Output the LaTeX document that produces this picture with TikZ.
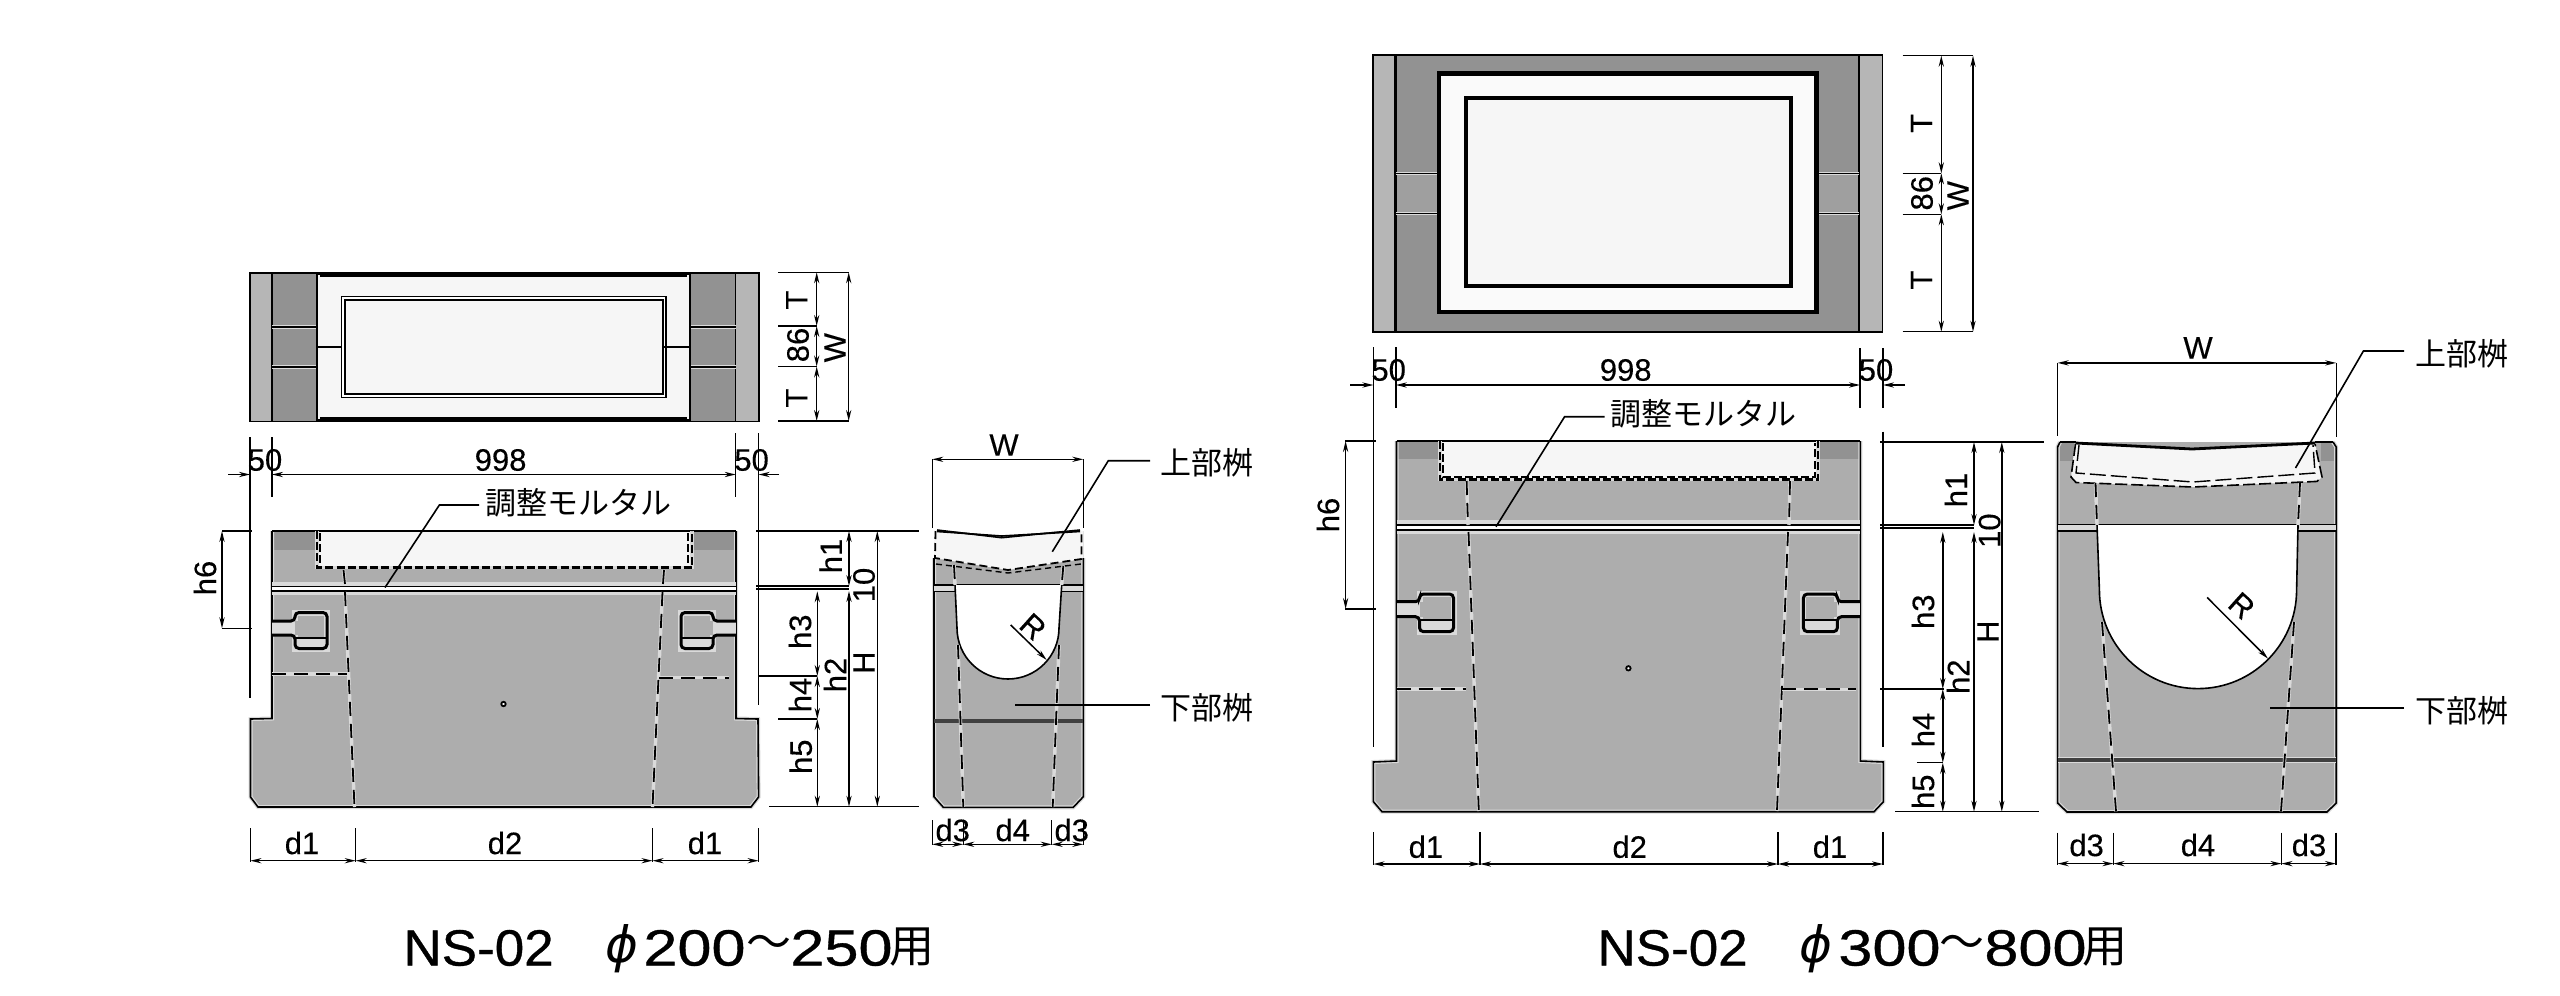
\documentclass[tikz,border=0pt]{standalone}
\usepackage{fontspec}
\usetikzlibrary{arrows.meta}
\setmainfont{Liberation Sans}
\newfontfamily\labf{Liberation Sans}[FakeBold=0.25]
\newfontfamily\cjkf{Noto Sans CJK JP}
\newfontfamily\widef{Liberation Sans}[FakeStretch=1.2,FakeBold=0.7]
\newfontfamily\slightf{Liberation Sans}[FakeStretch=1.04,FakeBold=0.7]
\newfontfamily\phif{DejaVu Sans Oblique}
\definecolor{body}{HTML}{ADADAD}
\definecolor{strip}{HTML}{B6B6B6}
\definecolor{band}{HTML}{929292}
\definecolor{lite}{HTML}{F6F6F6}
\definecolor{haloc}{HTML}{DADADA}
\tikzset{
  lab/.style={inner sep=0pt,font=\labf\fontsize{15.5}{17}\selectfont},
  labv/.style={lab,rotate=90},
  jp/.style={inner sep=0pt,font=\cjkf\fontsize{15.5}{17}\selectfont},
  tA/.style={inner sep=0pt,anchor=west,font=\slightf\fontsize{25.5}{28}\selectfont},
  tB/.style={inner sep=0pt,anchor=west,font=\widef\fontsize{25.5}{28}\selectfont},
  tC/.style={inner sep=0pt,anchor=west,font=\cjkf\fontsize{22.5}{26}\selectfont},
  tP/.style={inner sep=0pt,anchor=west,font=\phif\fontsize{25}{28}\selectfont},
  dimln/.style={line width=.75pt,black,{Stealth[length=5.5pt,width=2.6pt]}-{Stealth[length=5.5pt,width=2.6pt]}},
  dimone/.style={line width=.75pt,black,-{Stealth[length=5.5pt,width=2.6pt]}},
  ext/.style={line width=.7pt,black},
  lead/.style={line width=.8pt,black},
  halo/.style={line width=1.7pt,haloc},
  dsh/.style={line width=.9pt,black,dash pattern=on 7pt off 4pt},
  dshB/.style={line width=1.2pt,black,dash pattern=on 4pt off 1.6pt},
  solidln/.style={line width=.8pt,black},
  thick1/.style={line width=1.4pt,black},
}
\newcommand{\dashln}[1]{\draw[halo] #1; \draw[dsh] #1;}
\newcommand{\dashlnB}[1]{\draw[halo] #1; \draw[dshB] #1;}
\newcommand{\outl}[1]{\draw[line width=2pt,haloc] #1; \draw[solidln] #1;}
% x, dir, ytop, yn1, yn2, yline, ybot, length
\newcommand{\socket}[8]{%
\begin{scope}[shift={(#1,0)},xscale=#2]
\fill[body] (23,#3) rectangle (#8,#7);
\fill[haloc] (0,#4) rectangle (23,#5);
\draw[line width=3pt,haloc] (23,#4) -- (23,#3) -- (#8,#3) -- (#8,#7) -- (23,#7) -- (23,#5);
\fill[haloc] (23,#6) rectangle (#8,#7);
\draw[line width=1.5pt,black,rounded corners=2pt] (0,#4) -- (23,#4) -- (23,#3) -- (#8,#3) -- (#8,#7) -- (23,#7) -- (23,#5) -- (0,#5);
\draw[line width=1pt,black] (23,#6) -- (#8,#6);
\end{scope}}
\begin{document}
\begin{tikzpicture}[x=.5pt,y=-.5pt]
\useasboundingbox (0,0) rectangle (2560,996);
\fill[white] (0,0) rectangle (2560,996);

%% ===== LEFT PLAN =====
\fill[strip] (250,273) rectangle (759,421.5);
\fill[band] (272,273) rectangle (735.5,421.5);
\draw[solidln] (250,273) rectangle (759,421.5);
\draw[solidln] (272,273) -- (272,421.5) (735.5,273) -- (735.5,421.5);
\draw[halo] (272,327) -- (316,327) (272,367) -- (316,367) (691,327) -- (735.5,327) (691,367) -- (735.5,367);
\draw[solidln] (272,327) -- (316,327) (272,367) -- (316,367) (691,327) -- (735.5,327) (691,367) -- (735.5,367);
\fill[lite] (317,274) rectangle (690,420);
\draw[thick1] (317,274) rectangle (690,420);
\draw[solidln] (320,276) -- (687,276) (320,418) -- (687,418);
\fill[white] (341.5,296.5) rectangle (666,397.5);
\draw[solidln] (341.5,296.5) rectangle (666,397.5);
\fill[lite] (345,300) rectangle (663,394);
\draw[line width=1.3pt] (345,300) rectangle (663,394);
\draw[solidln] (317,347) -- (342,347) (663,347) -- (690,347);

%% plan dims
\draw[ext] (778,272.3) -- (849,272.3) (778,326) -- (816.7,326) (778,366.5) -- (816.7,366.5) (778,421) -- (849,421);
\draw[dimln] (816.7,272.3) -- (816.7,326);
\draw[dimln] (816.7,326) -- (816.7,366.5);
\draw[dimln] (816.7,366.5) -- (816.7,421);
\draw[dimln] (848.7,272.3) -- (848.7,421);
\node[labv] (lT1) at (796.7,300) {T};
\node[labv] (l86) at (798,345) {86};
\node[labv] (lT2) at (796.7,398) {T};
\node[labv] (lW1) at (835,347.7) {W};

%% 50/998/50
\draw[ext] (250,437) -- (250,698) (272,437) -- (272,497) (735.7,433) -- (735.7,497) (758.6,433) -- (758.6,705);
\draw[dimone] (228,474.5) -- (250,474.5);
\draw[dimln] (272,474.5) -- (735.7,474.5);
\draw[dimone] (779,474.5) -- (758.6,474.5);
\node[lab] (l50a) at (265,460) {50};
\node[lab] (l998a) at (500.6,460) {998};
\node[lab] (l50b) at (751.6,460) {50};

%% ===== LEFT ELEVATION =====
\fill[body] (272,531) -- (736,531) -- (736,718.5) -- (758,719) -- (758.6,797) -- (751,807) -- (258,807) -- (250.5,797) -- (250.5,719) -- (272,718.5) -- cycle;
\fill[band] (272,531) rectangle (318,550);
\fill[band] (692,531) rectangle (736,550);
\fill[lite] (318,531) rectangle (692,568);
\outl{(272,531) -- (272,718.5) -- (250.5,719) -- (250.5,797) -- (258,807) -- (751,807) -- (758.6,797) -- (758,719) -- (736,718.5) -- (736,531)}
\draw[solidln] (272,531) -- (736,531);
% joint
\fill[white] (272,586.5) rectangle (736,590.5);
\draw[halo] (272,584) -- (736,584) (272,593) -- (736,593);
\draw[solidln] (272,586.5) -- (736,586.5);
\draw[line width=1pt] (272,590.5) -- (736,590.5);
% trough
\dashlnB{(317,531) -- (317,567.5) -- (692,567.5) -- (692,531)}
\draw[dshB,line width=.7pt] (320,533) -- (320,565) (688,533) -- (688,565);
% dashed lines
\dashln{(343.5,570) -- (345,584)}
\dashln{(345,592) -- (354.5,807)}
\dashln{(664,570) -- (663,584)}
\dashln{(662.5,592) -- (652.5,807)}
\dashln{(272,674) -- (347,674)}
\dashln{(659,677.7) -- (729,677.7)}
\socket{272}{1}{612.5}{621}{635}{638}{648.5}{55}
\socket{736}{-1}{612.5}{621}{635}{638}{648.5}{55}
\draw[line width=.9pt,fill=white] (503.5,704) circle[radius=2.2];

%% leader 調整
\node[jp,anchor=west] (cho1) at (485,503) {調整モルタル};
\coordinate (cho1b) at (439.4,505);
\coordinate (cho1c) at (385,587.5);
\draw[lead] (cho1.west) ++(-6,2) -- (cho1b) -- (cho1c);

%% d dims
\draw[ext] (250.4,828) -- (250.4,862) (355.7,828) -- (355.7,862) (652.5,828) -- (652.5,862) (758.6,828) -- (758.6,862);
\draw[dimln] (250.4,860.7) -- (355.7,860.7);
\draw[dimln] (355.7,860.7) -- (652.5,860.7);
\draw[dimln] (652.5,860.7) -- (758.6,860.7);
\node[lab] (d1a) at (302,843) {d1};
\node[lab] (d2a) at (505,843) {d2};
\node[lab] (d1b) at (705,843) {d1};

%% h6
\draw[ext] (222,531) -- (252,531) (222,628.3) -- (252,628.3);
\draw[dimln] (222,531) -- (222,628.3);
\node[labv] (h6a) at (205,578) {h6};

%% right dims of left elevation
\draw[ext] (756,531) -- (919,531) (756,586) -- (849,586) (756,589) -- (849,589) (758,676) -- (817,676) (778,719) -- (817,719) (769,806.7) -- (919,806.7);
\draw[dimln] (817.3,591.3) -- (817.3,676);
\draw[dimln] (817.3,676) -- (817.3,719);
\draw[dimln] (817.3,719) -- (817.3,806.7);
\draw[dimln] (849,531) -- (849,586);
\draw[dimln] (849,591) -- (849,806.7);
\draw[dimln] (877.3,531) -- (877.3,806.7);
\node[labv] (h1a) at (830.7,556) {h1};
\node[labv] (t10a) at (864,585) {10};
\node[labv] (h3a) at (800,631.7) {h3};
\node[labv] (h2a) at (835,675) {h2};
\node[labv] (Ha) at (864,662.7) {H};
\node[labv] (h4a) at (800,695) {h4};
\node[labv] (h5a) at (800.7,756.7) {h5};

%% ===== LEFT SIDE =====
\draw[ext] (932.3,459.3) -- (932.3,528) (1083.3,459.3) -- (1083.3,528);
\draw[dimln] (932.3,459.3) -- (1083.3,459.3);
\node[lab] (Wa) at (1004,445) {W};
\fill[body] (934,531) -- (1083.3,531) -- (1083.3,796.7) -- (1073.3,807.3) -- (943.3,807.3) -- (934,796.7) -- cycle;
\fill[lite] (934,531) -- (1001.7,537.7) -- (1083,531) -- (1083,559) -- (1008,570) -- (934,558) -- cycle;
\fill[white] (934,529) -- (1001.7,536) -- (1083.3,529) -- (1083.3,531) -- (934,531) -- cycle;
\outl{(934,558) -- (934,796.7) -- (943.3,807.3) -- (1073.3,807.3) -- (1083.3,796.7) -- (1083.3,558)}
% top lines
\draw[solidln] (937,530) -- (1001.7,537.7) -- (1080,530);
\draw[solidln] (937,531.5) -- (1001.7,536) -- (1080,531.5);
\draw[dsh,line width=.9pt,dash pattern=on 4pt off 2pt] (935.5,531) -- (935,558) -- (1008,570) -- (1081.5,559) -- (1081.5,531);
\draw[dsh,line width=.7pt,dash pattern=on 3pt off 2pt] (936,564) -- (1008,573) -- (1081,564);
% joint
\fill[haloc] (934,585) rectangle (955,592);
\fill[haloc] (1061.7,585) rectangle (1083.3,592);
\draw[solidln] (934,585) -- (1083.3,585);
\draw[solidln] (934,591.5) -- (955,591.5) (1061.7,591.5) -- (1083.3,591.5);
% opening
\fill[white] (955,585) -- (957,628) .. controls (957,656.2) and (979.8,679) .. (1008,679) .. controls (1036.2,679) and (1059,656.2) .. (1059,628) -- (1061.7,585) -- cycle;
\draw[solidln] (955,585) -- (957,628) .. controls (957,656.2) and (979.8,679) .. (1008,679) .. controls (1036.2,679) and (1059,656.2) .. (1059,628) -- (1061.7,585);
% seam
\draw[line width=2pt,haloc] (934,721) -- (1083.3,721);
\draw[line width=1.6pt,black!75] (934,721) -- (1083.3,721);
% dashes
\dashln{(954,565) -- (955,585)}
\dashln{(958,645) -- (963.3,807)}
\dashln{(1063.3,566) -- (1061.7,585)}
\dashln{(1059,645) -- (1052.7,807)}
% R
\draw[dimone] (1010.7,625) -- (1046.7,660);
\node[lab,rotate=-42] (Ra) at (1033,626.7) {R};
% leaders
\node[jp,anchor=west] (up1) at (1160,463) {上部桝};
\node[jp,anchor=west] (lo1) at (1160,708) {下部桝};
\coordinate (up1b) at (1108.3,460.7);
\coordinate (up1c) at (1052.3,551.7);
\coordinate (lo1b) at (1015,705);
\draw[lead] (1150,460.7) -- (up1b) -- (up1c);
\draw[lead] (1150,705) -- (lo1b);
% d3 d4
\draw[ext] (932.3,820) -- (932.3,845) (963.3,820) -- (963.3,845) (1051.7,820) -- (1051.7,845) (1083.3,820) -- (1083.3,845);
\draw[dimln] (932.3,844.3) -- (963.3,844.3);
\draw[dimln] (963.3,844.3) -- (1051.7,844.3);
\draw[dimln] (1051.7,844.3) -- (1083.3,844.3);
\node[lab] (d3a) at (952.7,830) {d3};
\node[lab] (d4a) at (1012.7,830) {d4};
\node[lab] (d3b) at (1071.7,830) {d3};

%% Left title
\node[tA] (ta1) at (403,948) {NS-02};
\node[tP] (ta2) at (605,949) {ϕ};
\node[tB] (ta3) at (643,948) {200};
\node[tC] (ta4) at (746,947) {～};
\node[tB] (ta5) at (790,948) {250};
\node[tC] (ta6) at (889,947) {用};

%% ===== RIGHT PLAN =====
\fill[strip] (1373,55) rectangle (1882.4,331.7);
\fill[band] (1395.5,55) rectangle (1859.3,331.7);
\fill[strip!35!band] (1396,174) rectangle (1438,213);
\fill[strip!35!band] (1817,174) rectangle (1859,213);
\draw[solidln] (1373,55) rectangle (1882.4,331.7);
\draw[line width=1.1pt] (1395.5,55) -- (1395.5,331.7) (1859.3,55) -- (1859.3,331.7);
\draw[halo] (1396,173.3) -- (1439,173.3) (1396,213.3) -- (1439,213.3) (1816,173.3) -- (1859,173.3) (1816,213.3) -- (1859,213.3);
\draw[solidln] (1396,173.3) -- (1439,173.3) (1396,213.3) -- (1439,213.3) (1816,173.3) -- (1859,173.3) (1816,213.3) -- (1859,213.3);
\fill[lite!60!white] (1439,73.3) rectangle (1816.3,311.7);
\draw[line width=2.2pt] (1439,73.3) rectangle (1816.3,311.7);
\fill[lite] (1465.7,97.7) rectangle (1790.7,286);
\draw[line width=1.9pt] (1465.7,97.7) rectangle (1790.7,286);

\draw[ext] (1902.6,55.7) -- (1973,55.7) (1902.6,173.3) -- (1941,173.3) (1902.6,214.3) -- (1941,214.3) (1902.6,331.7) -- (1973,331.7);
\draw[dimln] (1941.3,55.7) -- (1941.3,173.3);
\draw[dimln] (1941.3,173.3) -- (1941.3,214.3);
\draw[dimln] (1941.3,214.3) -- (1941.3,331.7);
\draw[dimln] (1973,55.7) -- (1973,331.7);
\node[labv] (rT1) at (1921.5,123.3) {T};
\node[labv] (r86) at (1922,193.3) {86};
\node[labv] (rT2) at (1921.5,280) {T};
\node[labv] (rW1) at (1958,195.7) {W};

\draw[ext] (1373.4,347) -- (1373.4,747) (1395.8,347) -- (1395.8,407.7) (1860,348) -- (1860,407.7) (1883,348) -- (1883,407.7) (1883,431.7) -- (1883,747);
\draw[dimone] (1350,385) -- (1373.4,385);
\draw[dimln] (1395.8,385) -- (1860,385);
\draw[dimone] (1905,385) -- (1883,385);
\node[lab] (r50a) at (1388.7,370) {50};
\node[lab] (r998) at (1625.7,370) {998};
\node[lab] (r50b) at (1876,370) {50};

%% ===== RIGHT ELEVATION =====
\fill[body] (1396.5,441) -- (1860.4,441) -- (1860.4,761) -- (1883.4,762) -- (1883.4,801.7) -- (1874,811.7) -- (1382,811.7) -- (1373.4,801.7) -- (1373.4,762) -- (1396.5,761) -- cycle;
\fill[band] (1396.5,441) rectangle (1440.6,459.3);
\fill[band] (1817,441) rectangle (1860.4,459.3);
\fill[lite] (1440.6,441) rectangle (1817,479.3);
\outl{(1396.5,441) -- (1396.5,761) -- (1373.4,762) -- (1373.4,801.7) -- (1382,811.7) -- (1874,811.7) -- (1883.4,801.7) -- (1883.4,762) -- (1860.4,761) -- (1860.4,441)}
\draw[solidln] (1396.5,441) -- (1860.4,441);
\fill[white] (1396.5,525) rectangle (1860.4,530);
\draw[halo] (1396.5,522) -- (1860.4,522) (1396.5,532.5) -- (1860.4,532.5);
\draw[solidln] (1396.5,525) -- (1860.4,525);
\draw[line width=1pt] (1396.5,530) -- (1860.4,530);
\dashlnB{(1440,441) -- (1440,479.5) -- (1818,479.5) -- (1818,441)}
\draw[dshB,line width=.7pt] (1443,443) -- (1443,477) -- (1815,477) -- (1815,443);
\dashln{(1466.6,481) -- (1468,525)}
\dashln{(1468.5,532) -- (1478.8,811)}
\dashln{(1790,481) -- (1789,525)}
\dashln{(1788,532) -- (1777,811)}
\dashln{(1396.5,689) -- (1466,689)}
\dashln{(1782,689.3) -- (1856,689.3)}
\socket{1396.5}{1}{594}{601.7}{616.7}{620}{631.7}{57}
\socket{1860.4}{-1}{594}{601.7}{616.7}{620}{631.7}{57}
\draw[line width=.9pt,fill=white] (1628.4,668.3) circle[radius=2.2];

\node[jp,anchor=west] (cho2) at (1609.7,414) {調整モルタル};
\coordinate (cho2b) at (1564.6,416.7);
\coordinate (cho2c) at (1496,526.7);
\draw[lead] (cho2.west) ++(-5,2.7) -- (cho2b) -- (cho2c);

\draw[ext] (1373.4,832) -- (1373.4,865) (1480,832) -- (1480,865) (1778,832) -- (1778,865) (1883,832) -- (1883,865);
\draw[dimln] (1373.4,864) -- (1480,864);
\draw[dimln] (1480,864) -- (1778,864);
\draw[dimln] (1778,864) -- (1883,864);
\node[lab] (d1c) at (1425.9,846.7) {d1};
\node[lab] (d2c) at (1629.7,846.7) {d2};
\node[lab] (d1d) at (1830,846.7) {d1};

\draw[ext] (1345,441) -- (1376,441) (1345,609) -- (1376,609);
\draw[dimln] (1345.6,441) -- (1345.6,609);
\node[labv] (h6c) at (1328,515) {h6};

\draw[ext] (1880,442) -- (2044,442) (1880,525) -- (1974,525) (1880,528) -- (1974,528) (1880,689) -- (1943.6,689) (1916.8,762.7) -- (1943,762.7) (1895,811.7) -- (2039,811.7);
\draw[dimln] (1942.8,532) -- (1942.8,689);
\draw[dimln] (1942.8,689) -- (1942.8,762.7);
\draw[dimln] (1942.8,762.7) -- (1942.8,811.7);
\draw[dimln] (1974,442) -- (1974,525);
\draw[dimln] (1974,532) -- (1974,811.7);
\draw[dimln] (2001.8,442) -- (2001.8,811.7);
\node[labv] (h1c) at (1955.8,490) {h1};
\node[labv] (t10c) at (1989.6,530.7) {10};
\node[labv] (h3c) at (1923,611.7) {h3};
\node[labv] (h2c) at (1958,676.7) {h2};
\node[labv] (Hc) at (1988,631.7) {H};
\node[labv] (h4c) at (1923,730) {h4};
\node[labv] (h5c) at (1923,791.7) {h5};

%% ===== RIGHT SIDE =====
\draw[ext] (2057.6,363) -- (2057.6,436) (2336.2,363) -- (2336.2,437);
\draw[dimln] (2057.6,362.9) -- (2336.2,362.9);
\node[lab] (Wc) at (2198,347.9) {W};
\fill[body] (2060,442) -- (2333,442) -- (2336.2,447) -- (2336.2,803) -- (2327,812) -- (2067,812) -- (2057.6,803) -- (2057.6,447) -- cycle;
\fill[band] (2060,443) rectangle (2074,461);
\fill[band] (2321,443) rectangle (2334,461);
\fill[lite] (2075,443) -- (2192,449) -- (2315,443) -- (2322,477) -- (2317,481.4) -- (2192.8,487) -- (2076,482.5) -- (2071,477) -- cycle;
\outl{(2060,442) -- (2057.6,447) -- (2057.6,803) -- (2067,812) -- (2327,812) -- (2336.2,803) -- (2336.2,447) -- (2333,442)}
\draw[solidln] (2060,442) -- (2076,442) (2315,442) -- (2333,442);
\draw[line width=1.4pt] (2075.5,443) -- (2192,449) -- (2315,443);
\draw[dsh,line width=.8pt,dash pattern=on 6pt off 2pt] (2075.5,444) -- (2071,477) -- (2076,482.5) -- (2192.8,487) -- (2317,481.4) -- (2322,477) -- (2315,444);
\draw[dsh,line width=.7pt,dash pattern=on 8pt off 2.5pt] (2079,445) -- (2076,473) -- (2192.8,482) -- (2315,473) -- (2313,445);
% joint
\fill[haloc] (2057.6,525) rectangle (2097,531);
\fill[haloc] (2298,525) rectangle (2336.2,531);
\draw[solidln] (2057.6,524.6) -- (2336.2,524.6);
\draw[solidln] (2057.6,530.7) -- (2097,530.7) (2298,530.7) -- (2336.2,530.7);
% opening
\fill[white] (2097,525) -- (2099.4,590) .. controls (2099.4,644.5) and (2143.5,688.6) .. (2198,688.6) .. controls (2252.5,688.6) and (2296.6,644.5) .. (2296.6,590) -- (2298,525) -- cycle;
\draw[solidln] (2097,525) -- (2099.4,590) .. controls (2099.4,644.5) and (2143.5,688.6) .. (2198,688.6) .. controls (2252.5,688.6) and (2296.6,644.5) .. (2296.6,590) -- (2298,525);
% seam
\draw[line width=2.6pt,haloc] (2057.6,760) -- (2336.2,760);
\draw[line width=1.9pt,black!75] (2057.6,760) -- (2336.2,760);
% dashes
\dashln{(2095.5,483) -- (2097,525)}
\dashln{(2102,622) -- (2116,811.5)}
\dashln{(2300,483) -- (2298,525)}
\dashln{(2294,622) -- (2281,811.5)}
% R
\draw[dimone] (2207.2,597.5) -- (2268,658.6);
\node[lab,rotate=-42] (Rc) at (2241.7,605.7) {R};
% leaders
\node[jp,anchor=west] (up2) at (2415,354) {上部桝};
\node[jp,anchor=west] (lo2) at (2415,711) {下部桝};
\coordinate (up2b) at (2363.4,351);
\coordinate (up2c) at (2295.5,468);
\coordinate (lo2b) at (2270,708);
\draw[lead] (2404,351) -- (up2b) -- (up2c);
\draw[lead] (2404,708) -- (lo2b);
% d3 d4
\draw[ext] (2057.6,832.5) -- (2057.6,865) (2113.4,832.5) -- (2113.4,865) (2281.4,832.5) -- (2281.4,865) (2336,832.5) -- (2336,865);
\draw[dimln] (2057.6,863.6) -- (2113.4,863.6);
\draw[dimln] (2113.4,863.6) -- (2281.4,863.6);
\draw[dimln] (2281.4,863.6) -- (2336,863.6);
\node[lab] (d3c) at (2086.6,845) {d3};
\node[lab] (d4c) at (2198,845) {d4};
\node[lab] (d3d) at (2309,845) {d3};

%% Right title
\node[tA] (tb1) at (1597,948) {NS-02};
\node[tP] (tb2) at (1799,949) {ϕ};
\node[tB] (tb3) at (1838,948) {300};
\node[tC] (tb4) at (1939,947) {～};
\node[tB] (tb5) at (1984,948) {800};
\node[tC] (tb6) at (2082,947) {用};
\end{tikzpicture}
\end{document}
